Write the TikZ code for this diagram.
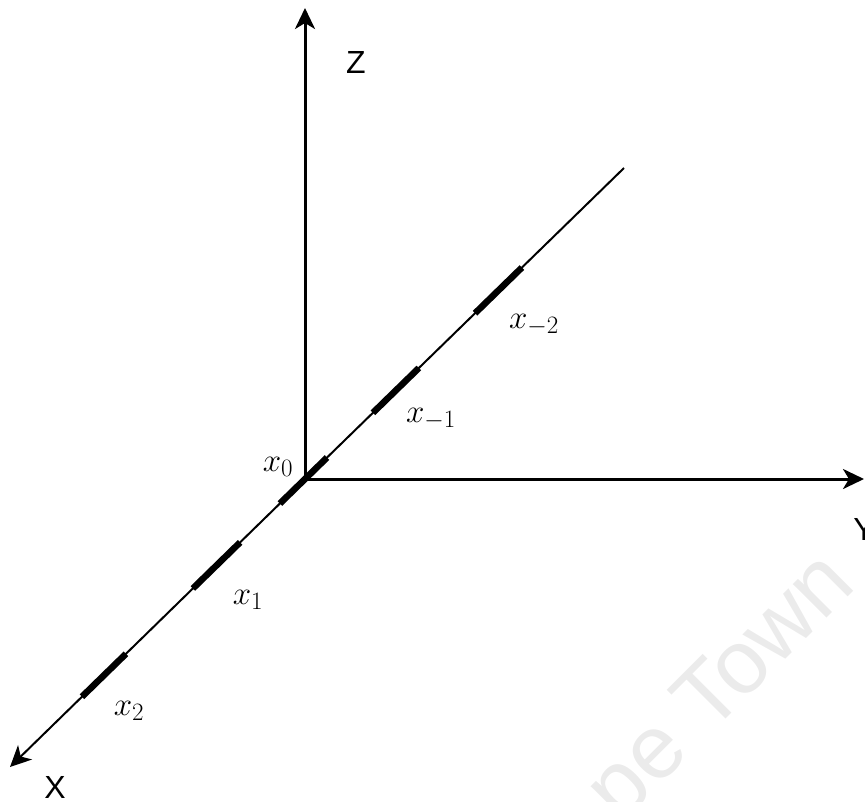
\RequirePackage{fix-cm}
\documentclass[tikz,border=0pt]{standalone}
\usepackage{fontspec}
\newfontfamily\axfont{Liberation Sans}
\DeclareMathSizes{33}{33}{25}{18}
\usetikzlibrary{arrows.meta,calc}
\begin{document}
\begin{tikzpicture}[x=1pt,y=-1pt,
  axisline/.style={line width=3pt,-{Stealth[length=21pt,width=20pt,inset=6pt]}},
  diagline/.style={line width=2pt},
  seg/.style={line width=6.5pt,line cap=butt},
  lab/.style={font=\fontsize{33}{40}\selectfont,inner sep=0pt},
  axlab/.style={font=\axfont\fontsize{32}{36}\selectfont,inner sep=0pt},
  wmark/.style={rotate=45,anchor=base east,text=gray!16,font=\axfont\fontsize{90}{90}\selectfont,inner sep=0pt}]
\useasboundingbox (0,0) rectangle (865,801);
\begin{scope}
  \clip (0,0) rectangle (865,801);
  \node[wmark] (wm) at (858,587) {pe Town};
\end{scope}
% key points
\coordinate (O) at (305,479);
\coordinate (Ztip) at (305,8);
\coordinate (Ytip) at (864,479);
\coordinate (Xtip) at (10,767);
\coordinate (D) at (624,168);
% axes
\draw[axisline] (O) -- (Ztip);
\draw[axisline] (O) -- (Ytip);
\draw[diagline] (O) -- (D);
\draw[diagline,-{Stealth[length=21pt,width=20pt,inset=6pt]}] (O) -- (Xtip);
% thick segments
\draw[seg] ($(O)!0.085!(Xtip)$) -- ($(O)!0.069!(D)$);
\draw[seg] ($(O)!0.213!(D)$) -- ($(O)!0.357!(D)$);
\draw[seg] ($(O)!0.533!(D)$) -- ($(O)!0.680!(D)$);
\draw[seg] ($(O)!0.220!(Xtip)$) -- ($(O)!0.380!(Xtip)$);
\draw[seg] ($(O)!0.607!(Xtip)$) -- ($(O)!0.756!(Xtip)$);
% labels
\node[lab] (l0) at (278,467) {$x_0$};
\node[lab] (lm1) at (431,419) {$x_{-1}$};
\node[lab] (lm2) at (534,325) {$x_{-2}$};
\node[lab] (l1) at (248,600) {$x_1$};
\node[lab] (l2) at (129,711) {$x_2$};
\node[axlab] (zl) at (356,62) {Z};
\node[axlab] (yl) at (864,529) {Y};
\node[axlab] (xl) at (55,787) {X};
\end{tikzpicture}
\end{document}
